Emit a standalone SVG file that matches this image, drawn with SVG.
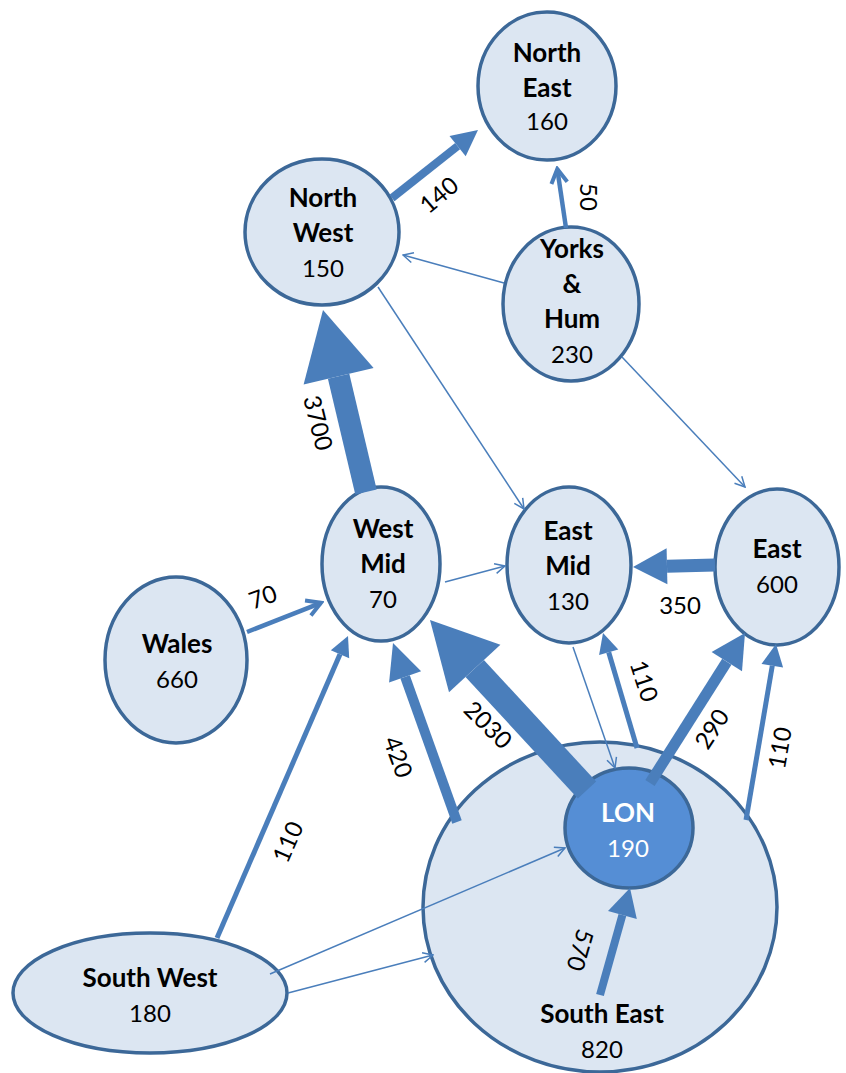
<svg xmlns="http://www.w3.org/2000/svg" width="846" height="1073" viewBox="0 0 846 1073">
<style>
.node{fill:#dce6f2;stroke:#3c6898;stroke-width:3.5}
.lon{fill:#558ed5;stroke:#3c6898;stroke-width:3.5}
.t{font-family:Lato,"Open Sans","Liberation Sans",sans-serif;font-size:24px;text-anchor:middle;fill:#000}
.b{font-weight:bold;font-size:26px}
.w{fill:#fff}
.e{stroke:#4a7ebb;fill:none;stroke-linecap:butt}
.h{fill:#4a7ebb;stroke:none}
.lbl{font-family:Lato,"Open Sans","Liberation Sans",sans-serif;font-size:24px;text-anchor:middle;fill:#000}
</style>
<defs>
<marker id="thin" markerUnits="userSpaceOnUse" viewBox="0 0 12 12" refX="11" refY="6" markerWidth="12" markerHeight="12" orient="auto">
<path d="M1,1 L11,6 L1,11" fill="none" stroke="#4a7ebb" stroke-width="1.5"/>
</marker>
<marker id="chev" markerUnits="userSpaceOnUse" viewBox="0 0 20 20" refX="17" refY="10" markerWidth="20" markerHeight="20" orient="auto">
<path d="M3,2 L17,10 L3,18" fill="none" stroke="#4a7ebb" stroke-width="4"/>
</marker>
</defs>
<rect width="846" height="1073" fill="#fff"/>
<g id="north-east"><ellipse class="node" cx="547" cy="86" rx="69" ry="74"/>
<text class="t b" x="547" y="62">North</text><text class="t b" x="547" y="97">East</text><text class="t" x="547" y="130">160</text></g>
<g id="north-west"><ellipse class="node" cx="322" cy="232" rx="77" ry="73"/>
<text class="t b" x="323" y="207">North</text><text class="t b" x="323" y="242">West</text><text class="t" x="323" y="277">150</text></g>
<g id="yorks-hum"><ellipse class="node" cx="571" cy="304" rx="68" ry="77"/>
<text class="t b" x="572" y="258">Yorks</text><text class="t b" x="572" y="293">&amp;</text><text class="t b" x="572" y="328">Hum</text><text class="t" x="572" y="363">230</text></g>
<g id="west-mid"><ellipse class="node" cx="381" cy="564" rx="59" ry="77"/>
<text class="t b" x="383" y="538">West</text><text class="t b" x="383" y="573">Mid</text><text class="t" x="383" y="608">70</text></g>
<g id="wales"><ellipse class="node" cx="176" cy="660" rx="71" ry="83"/>
<text class="t b" x="177" y="653">Wales</text><text class="t" x="177" y="688">660</text></g>
<g id="east-mid"><ellipse class="node" cx="569" cy="565" rx="62" ry="78"/>
<text class="t b" x="568" y="540">East</text><text class="t b" x="568" y="575">Mid</text><text class="t" x="568" y="610">130</text></g>
<g id="east"><ellipse class="node" cx="777" cy="567" rx="62" ry="78"/>
<text class="t b" x="777" y="558">East</text><text class="t" x="777" y="593">600</text></g>
<g id="south-east"><ellipse class="node" cx="600" cy="907" rx="177" ry="165"/>
<text class="t b" x="602" y="1023">South East</text><text class="t" x="602" y="1058">820</text></g>
<g id="london"><ellipse class="lon" cx="629" cy="828" rx="64" ry="60"/>
<text class="t b w" x="628" y="822">LON</text><text class="t w" x="628" y="857">190</text></g>
<g id="south-west"><ellipse class="node" cx="150" cy="993" rx="137" ry="60"/>
<text class="t b" x="150" y="987">South West</text><text class="t" x="150" y="1022">180</text></g>
<g id="connectors">
<line class="e" x1="366" y1="492" x2="338.6" y2="376.2" stroke-width="22"/><polygon class="h" points="323,310 373.6,367.9 303.6,384.5"/>
<line class="e" x1="587" y1="790" x2="474.7" y2="668.5" stroke-width="25"/><polygon class="h" points="430,620 500.4,644.8 449,692.2"/>
<line class="e" x1="650" y1="783" x2="726.8" y2="661.7" stroke-width="11"/><polygon class="h" points="745,633 742,671.3 711.6,652.1"/>
<line class="e" x1="457" y1="822" x2="405.1" y2="676.9" stroke-width="10"/><polygon class="h" points="393,643 421.1,671.2 389.1,682.6"/>
<line class="e" x1="715" y1="565" x2="667" y2="566.2" stroke-width="13"/><polygon class="h" points="633,567 666.6,548.2 667.4,584.2"/>
<line class="e" x1="392" y1="198" x2="457.6" y2="146.1" stroke-width="8"/><polygon class="h" points="478,130 465.7,156.3 449.5,135.9"/>
<line class="e" x1="600" y1="995" x2="622.4" y2="915" stroke-width="8"/><polygon class="h" points="630,888 636.8,919.1 608,910.9"/>
<line class="e" x1="637" y1="748" x2="608.7" y2="652.2" stroke-width="5"/><polygon class="h" points="603,633 618.3,649.4 599.1,655"/>
<line class="e" x1="746" y1="820" x2="772.3" y2="665.7" stroke-width="5"/><polygon class="h" points="776,644 783.1,667.5 761.5,663.9"/>
<line class="e" x1="217" y1="938" x2="340" y2="654.3" stroke-width="5"/><polygon class="h" points="348,636 349.2,658.3 330.8,650.3"/>
<line class="e" x1="566" y1="228" x2="557.3" y2="169" stroke-width="4.5" marker-end="url(#chev)"/>
<line class="e" x1="247" y1="632" x2="321" y2="602.8" stroke-width="4.5" marker-end="url(#chev)"/>
<line class="e" x1="504" y1="283" x2="403" y2="255" stroke-width="1.5" marker-end="url(#thin)"/>
<line class="e" x1="378" y1="287" x2="524" y2="509" stroke-width="1.5" marker-end="url(#thin)"/>
<line class="e" x1="622" y1="357" x2="745" y2="487" stroke-width="1.5" marker-end="url(#thin)"/>
<line class="e" x1="445" y1="582" x2="505" y2="566" stroke-width="1.5" marker-end="url(#thin)"/>
<line class="e" x1="573" y1="647" x2="615" y2="768" stroke-width="1.5" marker-end="url(#thin)"/>
<line class="e" x1="270" y1="974" x2="565" y2="848" stroke-width="1.5" marker-end="url(#thin)"/>
<line class="e" x1="288" y1="993" x2="433" y2="955" stroke-width="1.5" marker-end="url(#thin)"/>
</g>
<g id="labels">
<text class="lbl" transform="translate(439,195) rotate(-40)" dy="0.35em">140</text>
<text class="lbl" transform="translate(588,197) rotate(90)" dy="0.35em">50</text>
<text class="lbl" transform="translate(318,423) rotate(76)" dy="0.35em">3700</text>
<text class="lbl" transform="translate(263,597) rotate(-20)" dy="0.35em">70</text>
<text class="lbl" transform="translate(680,606)" dy="0.35em">350</text>
<text class="lbl" transform="translate(398,757) rotate(70)" dy="0.35em">420</text>
<text class="lbl" transform="translate(488,725) rotate(45)" dy="0.35em">2030</text>
<text class="lbl" transform="translate(644,681) rotate(72)" dy="0.35em">110</text>
<text class="lbl" transform="translate(712,729) rotate(-57)" dy="0.35em">290</text>
<text class="lbl" transform="translate(780,748) rotate(-80)" dy="0.35em">110</text>
<text class="lbl" transform="translate(288,842) rotate(-66)" dy="0.35em">110</text>
<text class="lbl" transform="translate(580,950) rotate(106)" dy="0.35em">570</text>
</g>
</svg>
